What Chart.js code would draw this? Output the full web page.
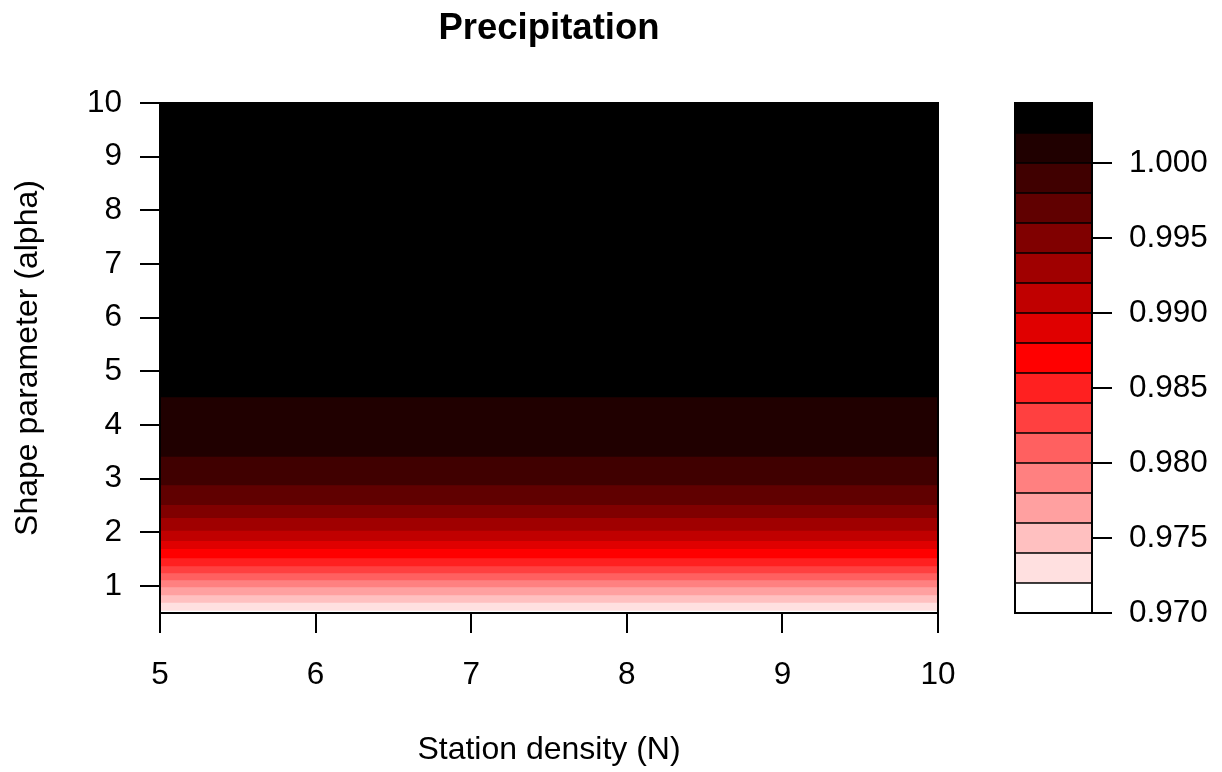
<!DOCTYPE html>
<html>
<head>
<meta charset="utf-8">
<title>Precipitation</title>
<script src="https://cdn.jsdelivr.net/npm/chart.js@4.4.1/dist/chart.umd.min.js"></script>
<style>
  html, body { margin: 0; padding: 0; background: #fff; }
  #wrap { position: relative; width: 1222px; height: 772px; overflow: hidden; }
  #precipChart { position: absolute; left: 0; top: 0; }
  #keyChart { position: absolute; left: 1000px; top: 0; }
</style>
</head>
<body>
<div id="wrap">
  <canvas id="precipChart" width="1222" height="772"></canvas>
  <canvas id="keyChart" width="222" height="772"></canvas>
</div>
<script>
// grid extent
const stationDensity = [5, 10];
const alphaRange = [0.5, 10];

// contour levels of the filled surface
const levels = [0.970, 0.972, 0.974, 0.976, 0.978, 0.980, 0.982, 0.984, 0.986,
                0.988, 0.990, 0.992, 0.994, 0.996, 0.998, 1.000, 1.002, 1.004];

// alpha at which the surface crosses levels 0.972 ... 1.002 (no change along N)
const levelAlpha = [0.54, 0.69, 0.83, 0.98, 1.11, 1.24, 1.37, 1.52, 1.69,
                    1.84, 2.03, 2.27, 2.51, 2.88, 3.41, 4.52];

const xTicks = [5, 6, 7, 8, 9, 10];
const yTicks = [1, 2, 3, 4, 5, 6, 7, 8, 9, 10];
const keyTicks = [0.970, 0.975, 0.980, 0.985, 0.990, 0.995, 1.000];

// white -> red -> black, one colour per level interval
const bandColors = [
    '#FFFFFF', '#FFE0E0', '#FFC0C0', '#FFA0A0', '#FF8080', '#FF6060', '#FF4040', '#FF2020',
    '#FF0000', '#E00000', '#C00000', '#A00000', '#800000', '#600000', '#400000', '#200000',
    '#000000'
];

const FONT = "'Liberation Sans', Arial, Helvetica, sans-serif";
const TICK_FONT = {family: FONT, size: 31.5};
const LABEL_FONT = {family: FONT, size: 32, lineHeight: 1.2};

const frame = {
    id: 'frame',
    afterDraw(chart) {
        const {ctx, chartArea: a} = chart;
        ctx.save();
        ctx.strokeStyle = '#000';
        ctx.lineWidth = 2;
        ctx.strokeRect(a.left, a.top, a.right - a.left, a.bottom - a.top);
        ctx.restore();
    }
};

const axisGrid = {
    drawOnChartArea: false,
    drawTicks: true,
    tickLength: 20,
    color: '#000',
    lineWidth: 2
};

// upper edge of every band; each band is filled down to the axis start,
// lower bands are drawn over the higher ones
const bandTops = levelAlpha.concat([alphaRange[1]]);

const ctx = document.getElementById('precipChart');
new Chart(ctx, {
    type: 'line',
    data: {
        datasets: bandTops.map((top, i) => ({
            data: stationDensity.map(n => ({x: n, y: top})),
            backgroundColor: bandColors[i],
            borderColor: 'rgba(0,0,0,0)',
            borderWidth: 1,
            pointRadius: 0,
            fill: 'start'
        }))
    },
    options: {
        responsive: false,
        animation: false,
        devicePixelRatio: 1,
        events: [],
        layout: {
            padding: {left: 0, top: 0, right: 284, bottom: 0}
        },
        plugins: {
            legend: false,
            tooltip: {enabled: false},
            title: {
                display: true,
                text: 'Precipitation',
                fullSize: false,
                color: '#000',
                font: {family: FONT, size: 36.5, weight: 'bold', lineHeight: 1.2},
                padding: {top: 7, bottom: 52.2}
            }
        },
        scales: {
            x: {
                type: 'linear',
                min: stationDensity[0],
                max: stationDensity[1],
                afterBuildTicks: s => { s.ticks = xTicks.map(v => ({value: v})); },
                afterFit: s => { s.height = 159; },
                grid: axisGrid,
                border: {display: true, color: '#000', width: 2},
                ticks: {
                    autoSkip: false,
                    maxRotation: 0,
                    color: '#000',
                    padding: 23,
                    font: TICK_FONT
                },
                title: {
                    display: true,
                    text: 'Station density (N)',
                    color: '#000',
                    font: LABEL_FONT,
                    padding: {top: 0, bottom: 2.5}
                }
            },
            y: {
                type: 'linear',
                min: alphaRange[0],
                max: alphaRange[1],
                afterBuildTicks: s => { s.ticks = yTicks.map(v => ({value: v})); },
                afterFit: s => { s.width = 160; },
                grid: axisGrid,
                border: {display: true, color: '#000', width: 2},
                ticks: {
                    autoSkip: false,
                    color: '#000',
                    padding: 18,
                    font: TICK_FONT
                },
                title: {
                    display: true,
                    text: 'Shape parameter (alpha)',
                    color: '#000',
                    font: LABEL_FONT,
                    padding: {top: 9, bottom: 0}
                }
            }
        }
    },
    plugins: [frame]
});

// colour key: one floating bar per level interval
const key = document.getElementById('keyChart');
new Chart(key, {
    type: 'bar',
    data: {
        labels: [''],
        datasets: bandColors.map((c, i) => ({
            data: [[levels[i], levels[i + 1]]],
            backgroundColor: c,
            borderColor: '#000',
            borderWidth: 1,
            borderSkipped: false,
            barPercentage: 1,
            categoryPercentage: 1
        }))
    },
    options: {
        responsive: false,
        animation: false,
        devicePixelRatio: 1,
        events: [],
        layout: {
            padding: {left: 15, top: 103, right: 0, bottom: 159}
        },
        plugins: {
            legend: false,
            tooltip: {enabled: false}
        },
        scales: {
            x: {
                display: false,
                stacked: true
            },
            y: {
                position: 'right',
                min: levels[0],
                max: levels[levels.length - 1],
                afterBuildTicks: s => { s.ticks = keyTicks.map(v => ({value: v})); },
                afterFit: s => { s.width = 130; },
                grid: axisGrid,
                border: {display: true, color: '#000', width: 2},
                ticks: {
                    autoSkip: false,
                    color: '#000',
                    padding: 17,
                    font: TICK_FONT,
                    callback: v => v.toFixed(3)
                }
            }
        }
    },
    plugins: [frame]
});
</script>
</body>
</html>
